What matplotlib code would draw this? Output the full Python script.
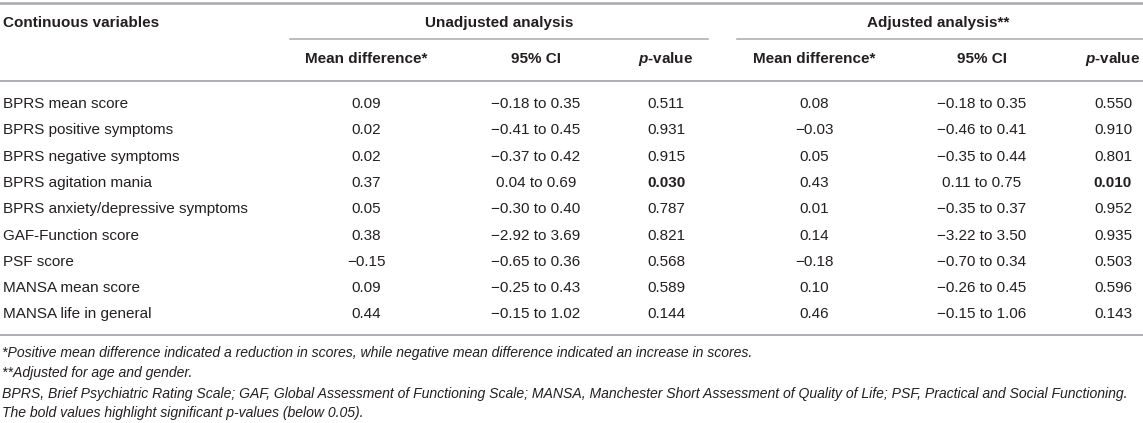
import matplotlib.pyplot as plt

plt.rcParams['font.family'] = ['Liberation Sans', 'DejaVu Sans']
plt.rcParams['mathtext.fontset'] = 'custom'
plt.rcParams['mathtext.bfit'] = 'Liberation Sans:italic:bold'

variables = ["BPRS mean score", "BPRS positive symptoms", "BPRS negative symptoms",
             "BPRS agitation mania", "BPRS anxiety/depressive symptoms",
             "GAF-Function score", "PSF score", "MANSA mean score",
             "MANSA life in general"]
unadj_md = ["0.09", "0.02", "0.02", "0.37", "0.05", "0.38", "\u22120.15", "0.09", "0.44"]
unadj_ci = ["\u22120.18 to 0.35", "\u22120.41 to 0.45", "\u22120.37 to 0.42", "0.04 to 0.69",
            "\u22120.30 to 0.40", "\u22122.92 to 3.69", "\u22120.65 to 0.36",
            "\u22120.25 to 0.43", "\u22120.15 to 1.02"]
unadj_p = ["0.511", "0.931", "0.915", "0.030", "0.787", "0.821", "0.568", "0.589", "0.144"]
adj_md = ["0.08", "\u22120.03", "0.05", "0.43", "0.01", "0.14", "\u22120.18", "0.10", "0.46"]
adj_ci = ["\u22120.18 to 0.35", "\u22120.46 to 0.41", "\u22120.35 to 0.44", "0.11 to 0.75",
          "\u22120.35 to 0.37", "\u22123.22 to 3.50", "\u22120.70 to 0.34",
          "\u22120.26 to 0.45", "\u22120.15 to 1.06"]
adj_p = ["0.550", "0.910", "0.801", "0.010", "0.952", "0.935", "0.503", "0.596", "0.143"]
significant = [False, False, False, True, False, False, False, False, False]

subheaders = ["Mean difference*", "95% CI", "$\\mathbfit{p}$-value"]
footnotes = [
    "*Positive mean difference indicated a reduction in scores, while negative mean difference indicated an increase in scores.",
    "**Adjusted for age and gender.",
    "BPRS, Brief Psychiatric Rating Scale; GAF, Global Assessment of Functioning Scale; MANSA, Manchester Short Assessment of Quality of Life; PSF, Practical and Social Functioning.",
    "The bold values highlight significant p-values (below 0.05).",
]

W, H = 1143, 423
fig = plt.figure(figsize=(W / 100, H / 100), dpi=100)
ax = fig.add_axes([0, 0, 1, 1])
ax.set_xlim(0, W)
ax.set_ylim(H, 0)
ax.axis("off")

fs = 11.0
fs_note = 10.1
txt = "#231f20"
rule = "#a7a9ac"

# rules
ax.plot([0, W], [3, 3], color=rule, lw=1.8)
ax.plot([290, 708], [39, 39], color=rule, lw=1.1)
ax.plot([737, W], [39, 39], color=rule, lw=1.1)
ax.plot([0, W], [81, 81], color=rule, lw=1.3)
ax.plot([0, W], [335, 335], color=rule, lw=1.3)

# header
ax.text(3, 23, "Continuous variables", fontsize=fs, fontweight="bold", color=txt, va="center")
ax.text(499, 23, "Unadjusted analysis", fontsize=fs, fontweight="bold", color=txt, va="center", ha="center")
ax.text(938, 23, "Adjusted analysis**", fontsize=fs, fontweight="bold", color=txt, va="center", ha="center")

col_x = [366, 536, 666, 814, 982, 1113]
for i, label in enumerate(subheaders * 2):
    ax.text(col_x[i], 59, label, fontsize=fs, fontweight="bold", color=txt, va="center", ha="center")

row_y0, row_dy = 104, 26.3
for r, name in enumerate(variables):
    y = row_y0 + r * row_dy
    ax.text(3, y, name, fontsize=fs, color=txt, va="center")
    vals = [unadj_md[r], unadj_ci[r], unadj_p[r], adj_md[r], adj_ci[r], adj_p[r]]
    for c, v in enumerate(vals):
        bold = significant[r] and c in (2, 5)
        ax.text(col_x[c], y, v, fontsize=fs, color=txt, va="center", ha="center",
                fontweight="bold" if bold else "normal")

note_y = [353, 373, 394, 413]
for k, line in enumerate(footnotes):
    ax.text(2, note_y[k], line, fontsize=fs_note, color=txt, va="center", style="italic")

fig.savefig("out.png", dpi=100, facecolor="white")
